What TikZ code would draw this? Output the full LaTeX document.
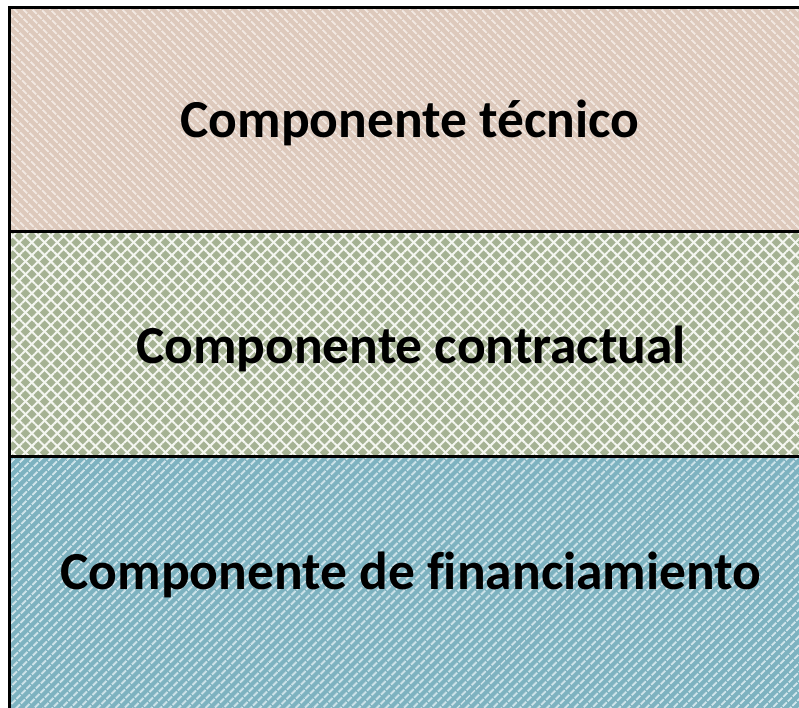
\documentclass[tikz,border=0pt]{standalone}
\usepackage{fontspec}
\setmainfont[Ligatures=NoCommon]{Carlito}
\usetikzlibrary{patterns.meta}
\definecolor{tecbase}{HTML}{DDC9BC}
\definecolor{tecline}{HTML}{F1E8E2}
\definecolor{conbase}{HTML}{A5B293}
\definecolor{conline}{HTML}{F4F6F0}
\definecolor{finbase}{HTML}{7DB2C0}
\definecolor{finline}{HTML}{D2E6EC}
\tikzset{tecnico/.style = {fill=tecbase,
                           postaction={pattern={Lines[angle=-45, distance=6.5pt, line width=2pt]},
                                       pattern color=tecline}}}
\tikzset{contrato/.style = {fill=conbase,
                            postaction={pattern={Lines[angle=45, distance=9pt, line width=2pt]},
                                        pattern color=conline},
                            postaction={pattern={Lines[angle=-45, distance=9pt, line width=2pt]},
                                        pattern color=conline}}}
\tikzset{financia/.style = {fill=finbase,
                            postaction={pattern={Lines[angle=45, distance=6.5pt, line width=2pt]},
                                        pattern color=finline}}}
\tikzset{etiqueta/.style = {anchor=base, inner sep=0, font=\fontsize{53.5}{60}\selectfont\bfseries}}
\tikzset{borde/.style = {line width=3pt}}

\begin{document}
\begin{tikzpicture}[x=1pt, y=1pt]
    \useasboundingbox (0, 0) rectangle (799, 707);
    \clip (0, 0) rectangle (799, 707);
    \fill [tecnico] (9.5, 699.5) rectangle (820, 475);
    \fill [contrato] (9.5, 475) rectangle (820, 251);
    \fill [financia] (9.5, 251) rectangle (820, -10);
    \coordinate (tl) at (9.5, 699.5);
    \coordinate (tr) at (820, 699.5);
    \coordinate (bl) at (9.5, -10);
    \coordinate (m1l) at (9.5, 475);
    \coordinate (m1r) at (820, 475);
    \coordinate (m2l) at (9.5, 251);
    \coordinate (m2r) at (820, 251);
    \draw [borde] (tr) -- (tl) -- (bl);
    \draw [borde] (m1l) -- (m1r);
    \draw [borde] (m2l) -- (m2r);
    \node [etiqueta] (tec) at (410, 569) {Componente técnico};
    \node [etiqueta] (con) at (411, 343) {Componente contractual};
    \node [etiqueta] (fin) at (411, 118) {Componente de financiamiento};
  \end{tikzpicture}
\end{document}
